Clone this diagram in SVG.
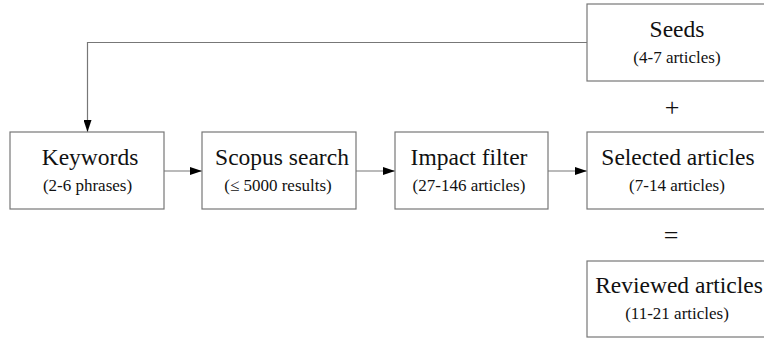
<svg xmlns="http://www.w3.org/2000/svg" width="764" height="339" viewBox="0 0 764 339">
<style>
.box{fill:#fff;stroke:#777;stroke-width:1.2}
.t{font-family:"Liberation Serif","DejaVu Serif",serif;font-size:23.5px;fill:#111;text-anchor:middle}
.s{font-family:"Liberation Serif","DejaVu Serif",serif;font-size:17px;fill:#111;text-anchor:middle}
.op{font-family:"Liberation Serif","DejaVu Serif",serif;font-size:26px;fill:#111;text-anchor:middle}
.c{fill:none;stroke:#777;stroke-width:1.2}
</style>
<defs>
<marker id="ah" markerWidth="12" markerHeight="8" refX="12" refY="4" orient="auto" markerUnits="userSpaceOnUse">
<path d="M0,0 L12,4 L0,8 Z" fill="#000"/>
</marker>
</defs>
<rect width="764" height="339" fill="#fff"/>
<g id="connectors">
<path class="c" d="M164,171 H202" marker-end="url(#ah)"/>
<path class="c" d="M356,171 H395" marker-end="url(#ah)"/>
<path class="c" d="M548,171 H587" marker-end="url(#ah)"/>
<path class="c" d="M587,42.5 H87.5 V132" marker-end="url(#ah)"/>
</g>
<g id="keywords">
<rect class="box" x="10" y="132" width="154" height="77"/>
<text class="t" x="90" y="165">Keywords</text>
<text class="s" x="87.5" y="190.5">(2-6 phrases)</text>
</g>
<g id="scopus">
<rect class="box" x="202" y="132" width="154" height="77"/>
<text class="t" x="282" y="165">Scopus search</text>
<text class="s" x="278" y="190.5">(≤ 5000 results)</text>
</g>
<g id="impact">
<rect class="box" x="395" y="132" width="153" height="77"/>
<text class="t" x="469" y="165">Impact filter</text>
<text class="s" x="469" y="190.5">(27-146 articles)</text>
</g>
<g id="seeds">
<rect class="box" x="587" y="4" width="190" height="77"/>
<text class="t" x="677" y="37">Seeds</text>
<text class="s" x="677" y="62.5">(4-7 articles)</text>
</g>
<text class="op" x="672" y="116">+</text>
<g id="selected">
<rect class="box" x="587" y="132" width="190" height="77"/>
<text class="t" x="678" y="165">Selected articles</text>
<text class="s" x="677" y="190.5">(7-14 articles)</text>
</g>
<text class="op" x="671" y="244">=</text>
<g id="reviewed">
<rect class="box" x="587" y="261" width="190" height="76"/>
<text class="t" x="679" y="293">Reviewed articles</text>
<text class="s" x="677" y="318.5">(11-21 articles)</text>
</g>
</svg>
